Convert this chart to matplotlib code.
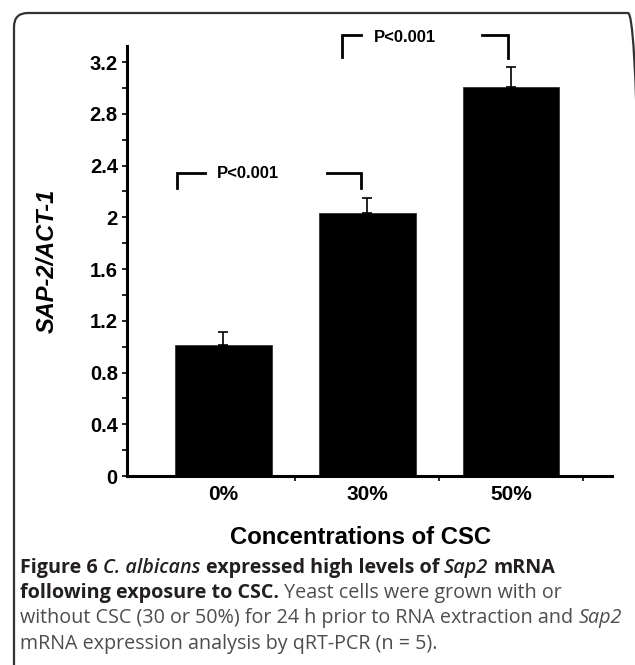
import numpy as np
import matplotlib
matplotlib.use("Agg")
import matplotlib.pyplot as plt
from matplotlib.transforms import IdentityTransform
from matplotlib.patches import FancyBboxPatch

# ---- data ----
categories = ["0%", "30%", "50%"]
values = [1.01, 2.03, 3.01]
errors = [0.10, 0.12, 0.15]
ytick_values = [0, 0.4, 0.8, 1.2, 1.6, 2.0, 2.4, 2.8, 3.2]
ytick_labels = ["0", "0.4", "0.8", "1.2", "1.6", "2", "2.4", "2.8", "3.2"]
p_label = "P<0.001"

W, H = 635, 665
fig = plt.figure(figsize=(W / 100, H / 100), dpi=100)
fig.patch.set_facecolor("white")

# axes placement (pixels: left 127, right 612, top 46, bottom 476)
ax = fig.add_axes([127 / W, (H - 476) / H, (612 - 127) / W, (476 - 46) / H])
x = np.arange(len(categories))
ax.bar(x, values, width=0.67, color="black", edgecolor="#222222", linewidth=0.5, zorder=2)
ax.errorbar(x, values, yerr=[np.zeros(len(errors)), errors], fmt="none",
            ecolor="black", elinewidth=1.2, capsize=3.5, capthick=1.2, zorder=3)

ax.set_xlim(-0.67, 2.70)
ax.set_ylim(0, 3.324)

bold_font = "Liberation Sans"
ax.set_yticks(ytick_values)
ax.set_yticklabels(ytick_labels, fontsize=14.5, fontweight="bold", family=bold_font)
ax.set_yticks(np.arange(0.2, 3.1, 0.4), minor=True)
ax.set_xticks(x)
ax.set_xticklabels(categories, fontsize=15, fontweight="bold", family=bold_font)
ax.set_xticks(list(x[:-1] + 0.5) + [2.5], minor=True)

ax.tick_params(axis="y", which="both", direction="out", length=3.6, width=1.2, pad=3)
ax.tick_params(axis="x", which="major", length=0, pad=6.5)
ax.tick_params(axis="x", which="minor", direction="out", length=3.6, width=1.2)

for s in ["top", "right"]:
    ax.spines[s].set_visible(False)
for s in ["left", "bottom"]:
    ax.spines[s].set_linewidth(2.2)

ax.set_ylabel("SAP-2/ACT-1", fontsize=17, fontweight="bold", style="italic",
              family=bold_font, va="center")
ax.yaxis.set_label_coords((47 - 127) / 485, 0.5)
ax.set_xlabel("Concentrations of CSC", fontsize=17.2, fontweight="bold",
              family=bold_font, va="baseline")
ax.xaxis.set_label_coords((361 - 127) / 485, (476 - 544) / 430)

# significance brackets
lw_b = 2.0
# bracket 1 (0% vs 30%)
ax.plot([-0.32, -0.32, -0.13], [2.23, 2.34, 2.34], color="black", lw=lw_b, clip_on=False,
        solid_joinstyle="miter")
ax.plot([0.72, 0.957, 0.957], [2.34, 2.34, 2.23], color="black", lw=lw_b, clip_on=False,
        solid_joinstyle="miter")
ax.text(0.17, 2.34, p_label, fontsize=12, fontweight="bold", family=bold_font,
        ha="center", va="center")
# bracket 2 (30% vs 50%)
ax.plot([0.824, 0.824, 0.956], [3.24, 3.41, 3.41], color="black", lw=lw_b, clip_on=False,
        solid_joinstyle="miter")
ax.plot([1.80, 1.98, 1.98], [3.41, 3.41, 3.23], color="black", lw=lw_b, clip_on=False,
        solid_joinstyle="miter")
ax.text(1.26, 3.39, p_label, fontsize=12, fontweight="bold", family=bold_font,
        ha="center", va="center", clip_on=False)

# rounded frame
frame = FancyBboxPatch((14, -40), 628, (H - 13) + 40,
                       boxstyle="round,pad=0,rounding_size=14",
                       transform=IdentityTransform(), fill=False,
                       edgecolor="#333333", linewidth=1.6)
fig.add_artist(frame)

# caption with mixed styles
renderer = fig.canvas.get_renderer()
cap_font = "Open Sans"
cap_size = 14.2
dark = "#231f20"
grey = "#4d4d4d"

def space_width(style):
    a = fig.text(0, 0, "x x", transform=IdentityTransform(), fontsize=cap_size,
                 family=cap_font, **style)
    b = fig.text(0, 0, "xx", transform=IdentityTransform(), fontsize=cap_size,
                 family=cap_font, **style)
    w = a.get_window_extent(renderer).width - b.get_window_extent(renderer).width
    a.remove(); b.remove()
    return w

def draw_runs(x0, y_top_px, runs):
    xx = x0
    y = H - y_top_px
    for txt, style, color in runs:
        lead = len(txt) - len(txt.lstrip(" "))
        trail = len(txt) - len(txt.rstrip(" "))
        sw = space_width(style)
        xx += lead * sw
        t = fig.text(xx, y, txt.strip(" "), transform=IdentityTransform(),
                     fontsize=cap_size, family=cap_font, color=color,
                     ha="left", va="baseline", **style)
        xx += t.get_window_extent(renderer).width + trail * sw

B = dict(fontweight="bold")
BI = dict(fontweight="semibold", style="italic")
R = dict(fontweight="normal")
I = dict(fontweight="normal", style="italic")

draw_runs(20, 573, [("Figure 6 ", B, dark), ("C. albicans ", BI, dark),
                    ("expressed high levels of ", B, dark), ("Sap2 ", BI, dark),
                    ("mRNA", B, dark)])
draw_runs(20, 598, [("following exposure to CSC. ", B, dark),
                    ("Yeast cells were grown with or", R, grey)])
draw_runs(20, 623.5, [("without CSC (30 or 50%) for 24 h prior to RNA extraction and ", R, grey),
                      ("Sap2", I, grey)])
draw_runs(20, 649, [("mRNA expression analysis by qRT-PCR (n = 5).", R, grey)])

fig.savefig("out.png", dpi=100)
